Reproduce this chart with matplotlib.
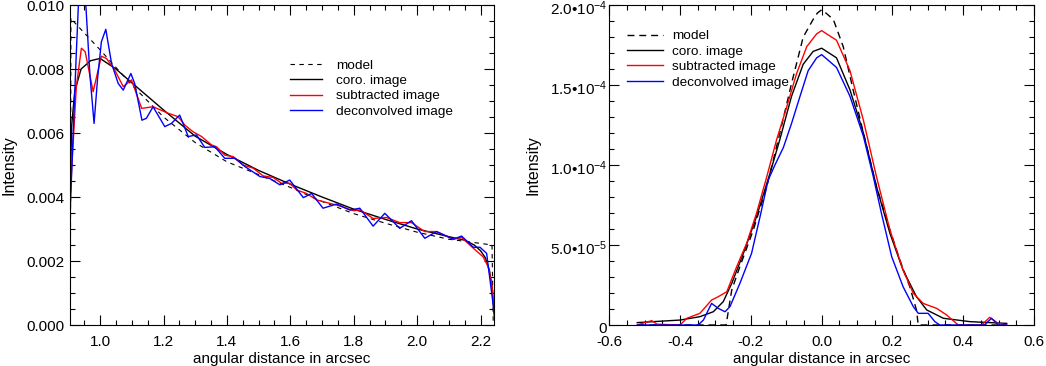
import matplotlib
matplotlib.use("Agg")
import matplotlib.pyplot as plt
import matplotlib.transforms as mtransforms
from matplotlib.ticker import FixedLocator, MultipleLocator, FixedFormatter

plt.rcParams['font.family'] = ['Liberation Sans', 'DejaVu Sans']
plt.rcParams['mathtext.fontset'] = 'custom'
plt.rcParams['mathtext.rm'] = 'Liberation Sans'
plt.rcParams['mathtext.it'] = 'Liberation Sans:italic'
plt.rcParams['mathtext.bf'] = 'Liberation Sans:bold'
plt.rcParams['mathtext.default'] = 'regular'

# ---------------- data: left panel (radial profile) ----------------
left_model_x = [0.906, 0.908, 0.915, 1.0, 1.1, 1.2, 1.3, 1.4, 1.5, 1.6, 1.7, 1.8, 1.9,
                2.0, 2.1, 2.2, 2.236, 2.24]
left_model_y = [0.0, 0.0096, 0.0095, 0.0086, 0.0075, 0.0065, 0.0057, 0.0051, 0.0047,
                0.0043, 0.00386, 0.00348, 0.00318, 0.0029, 0.00268, 0.00255, 0.0025, 0.0]

left_coro_x = [0.904, 0.91, 0.92, 0.94, 0.97, 1.0, 1.05, 1.1, 1.2, 1.3, 1.4, 1.5, 1.6,
               1.7, 1.8, 1.9, 2.0, 2.1, 2.15, 2.18, 2.2, 2.215, 2.228, 2.236, 2.243]
left_coro_y = [0.0035, 0.0062, 0.0073, 0.0080, 0.00826, 0.00833, 0.0080, 0.00757,
               0.00672, 0.0059, 0.00533, 0.00483, 0.0044, 0.0040, 0.00362, 0.0033,
               0.0030, 0.00276, 0.00265, 0.0025, 0.00232, 0.0021, 0.0017, 0.0012, 0.0003]

left_sub_x = [0.904, 0.906, 0.925, 0.941, 0.953, 0.978, 1.004, 1.02, 1.046, 1.073, 1.099,
              1.131, 1.167, 1.214, 1.246, 1.267, 1.293, 1.32, 1.351, 1.367, 1.393, 1.42,
              1.451, 1.483, 1.514, 1.546, 1.572, 1.598, 1.62, 1.651, 1.683, 1.725, 1.756,
              1.8, 1.819, 1.861, 1.903, 1.945, 1.982, 2.024, 2.061, 2.114, 2.14, 2.177,
              2.208, 2.224, 2.235, 2.243]
left_sub_y = [0.0035, 0.0041, 0.00745, 0.00865, 0.00854, 0.00729, 0.0084, 0.00833,
              0.00797, 0.00745, 0.00766, 0.00677, 0.00682, 0.00662, 0.00651, 0.00625,
              0.00604, 0.00589, 0.00563, 0.00557, 0.00531, 0.00526, 0.0050, 0.0049,
              0.00466, 0.00461, 0.00443, 0.00443, 0.00422, 0.00411, 0.00391, 0.0038,
              0.00372, 0.00357, 0.0036, 0.00333, 0.00336, 0.0032, 0.0032, 0.00292,
              0.00292, 0.00268, 0.00274, 0.0024, 0.00213, 0.00182, 0.0013, 0.00037]

left_dec_x = [0.904, 0.915, 0.925, 0.935, 0.945, 0.955, 0.968, 0.981, 0.992, 1.004,
              1.018, 1.036, 1.057, 1.073, 1.097, 1.109, 1.132, 1.146, 1.167, 1.204,
              1.225, 1.251, 1.278, 1.304, 1.33, 1.362, 1.393, 1.425, 1.457, 1.504,
              1.535, 1.567, 1.598, 1.641, 1.667, 1.703, 1.746, 1.788, 1.819, 1.861,
              1.898, 1.945, 1.982, 2.024, 2.061, 2.114, 2.14, 2.177, 2.198, 2.219, 2.243]
left_dec_y = [0.0031, 0.0060, 0.0085, 0.0108, 0.0110, 0.0100, 0.0078, 0.0063, 0.0077,
              0.00885, 0.00924, 0.00818, 0.00755, 0.00734, 0.00786, 0.00755, 0.0064,
              0.00646, 0.00682, 0.0062, 0.0063, 0.00656, 0.00589, 0.00594, 0.00555,
              0.00557, 0.00521, 0.00521, 0.00495, 0.00464, 0.00458, 0.00438, 0.00453,
              0.00398, 0.00411, 0.00365, 0.00378, 0.00359, 0.00365, 0.00309, 0.00349,
              0.00302, 0.00326, 0.00271, 0.00292, 0.00268, 0.00278, 0.00243, 0.00243,
              0.00224, 0.00037]

# ---------------- data: right panel (cut through the source) ----------------
right_model_x = [-0.52, -0.27, -0.254, -0.231, -0.193, -0.155, -0.118, -0.085, -0.052,
                 -0.024, -0.012, 0.0, 0.012, 0.033, 0.061, 0.089, 0.118, 0.155, 0.193,
                 0.221, 0.249, 0.268, 0.273, 0.52]
right_model_y = [0.0, 0.0, 2.19e-5, 3.65e-5, 5.94e-5, 8.65e-5, 1.2e-4, 1.51e-4, 1.8e-4,
                 1.91e-4, 1.95e-4, 1.97e-4, 1.95e-4, 1.91e-4, 1.74e-4, 1.47e-4, 1.2e-4,
                 8.65e-5, 5.94e-5, 4.06e-5, 2.4e-5, 9.4e-6, 0.0, 0.0]

right_coro_x = [-0.521, -0.4, -0.344, -0.306, -0.278, -0.254, -0.221, -0.184, -0.146,
                -0.118, -0.085, -0.052, -0.024, 0.0, 0.042, 0.08, 0.118, 0.155, 0.193,
                0.23, 0.268, 0.297, 0.344, 0.419, 0.523]
right_coro_y = [1.5e-6, 3.1e-6, 5.2e-6, 8.3e-6, 1.46e-5, 2.6e-5, 4.48e-5, 6.77e-5,
                9.48e-5, 1.16e-4, 1.43e-4, 1.63e-4, 1.71e-4, 1.73e-4, 1.67e-4, 1.47e-4,
                1.2e-4, 8.65e-5, 5.73e-5, 3.44e-5, 1.77e-5, 9.4e-6, 4.2e-6, 2.1e-6, 1e-6]

right_sub_x = [-0.521, -0.5, -0.48, -0.465, -0.4, -0.381, -0.344, -0.311, -0.292, -0.268,
               -0.24, -0.212, -0.184, -0.155, -0.127, -0.099, -0.071, -0.042, -0.014,
               0.0, 0.042, 0.08, 0.118, 0.155, 0.193, 0.23, 0.259, 0.287, 0.325, 0.353,
               0.386, 0.452, 0.475, 0.499, 0.523]
right_sub_y = [0.0, 1.5e-6, 2.7e-6, 0.5e-6, 0.0, 4.2e-6, 7.3e-6, 1.56e-5, 1.77e-5,
               2.08e-5, 3.65e-5, 5.1e-5, 6.98e-5, 9.27e-5, 1.16e-4, 1.36e-4, 1.57e-4,
               1.74e-4, 1.82e-4, 1.84e-4, 1.78e-4, 1.59e-4, 1.28e-4, 9.27e-5, 5.94e-5,
               3.44e-5, 1.98e-5, 1.35e-5, 1.04e-5, 6.3e-6, 0.0, 0.0, 4.8e-6, 1e-6, 0.0]

right_dec_x = [-0.521, -0.349, -0.334, -0.311, -0.292, -0.273, -0.259, -0.231, -0.198,
               -0.174, -0.151, -0.132, -0.108, -0.085, -0.061, -0.038, -0.014, 0.0,
               0.042, 0.08, 0.118, 0.146, 0.169, 0.198, 0.23, 0.259, 0.273, 0.301, 0.32,
               0.334, 0.46, 0.48, 0.499, 0.523]
right_dec_y = [0.0, 0.0, 3.1e-6, 1.35e-5, 1.04e-5, 8.3e-6, 1.15e-5, 2.6e-5, 4.48e-5,
               6.77e-5, 9.06e-5, 1.0e-4, 1.11e-4, 1.26e-4, 1.43e-4, 1.59e-4, 1.67e-4,
               1.69e-4, 1.61e-4, 1.43e-4, 1.18e-4, 9.27e-5, 6.98e-5, 4.27e-5, 2.4e-5,
               1.15e-5, 7.3e-6, 7.3e-6, 2.1e-6, 0.0, 0.0, 4.2e-6, 0.0, 0.0]

series_labels = ["model", "coro. image", "subtracted image", "deconvolved image"]

left_xticks = [1.0, 1.2, 1.4, 1.6, 1.8, 2.0, 2.2]
left_xticklabels = ["1.0", "1.2", "1.4", "1.6", "1.8", "2.0", "2.2"]
left_yticks = [0.0, 0.002, 0.004, 0.006, 0.008, 0.010]
left_yticklabels = ["0.000", "0.002", "0.004", "0.006", "0.008", "0.010"]

right_xticks = [-0.6, -0.4, -0.2, 0.0, 0.2, 0.4, 0.6]
right_xticklabels = ["-0.6", "-0.4", "-0.2", "0.0", "0.2", "0.4", "0.6"]
right_yticks = [0.0, 5e-5, 1e-4, 1.5e-4, 2e-4]
right_yticklabels = ["0", "5.0\u202210$^{-5}$", "1.0\u202210$^{-4}$",
                     "1.5\u202210$^{-4}$", "2.0\u202210$^{-4}$"]

xlabel_text = "angular distance in arcsec"
ylabel_text = "Intensity"

# ---------------- figure ----------------
fig = plt.figure(figsize=(10.46, 3.66), dpi=100)
axL = fig.add_axes([0.0669, 0.1120, 0.4056, 0.8743])
axR = fig.add_axes([0.5825, 0.1120, 0.4060, 0.8743])

LW = 1.0
axL.plot(left_model_x, left_model_y, color='black', lw=0.8, dashes=(4, 4), label=series_labels[0])
axL.plot(left_coro_x, left_coro_y, color='black', lw=LW, label=series_labels[1])
axL.plot(left_sub_x, left_sub_y, color='#ff0000', lw=LW, label=series_labels[2])
axL.plot(left_dec_x, left_dec_y, color='#0000ff', lw=LW, label=series_labels[3])

axR.plot(right_model_x, right_model_y, color='black', lw=LW, dashes=(5, 3.5), label=series_labels[0])
axR.plot(right_coro_x, right_coro_y, color='black', lw=LW, label=series_labels[1])
axR.plot(right_sub_x, right_sub_y, color='#ff0000', lw=LW, label=series_labels[2])
axR.plot(right_dec_x, right_dec_y, color='#0000ff', lw=LW, label=series_labels[3])

axL.set_xlim(0.905, 2.243)
axL.set_ylim(0.0, 0.010)
axR.set_xlim(-0.6, 0.6)
axR.set_ylim(0.0, 2.0e-4)

axL.xaxis.set_major_locator(FixedLocator(left_xticks))
axL.xaxis.set_major_formatter(FixedFormatter(left_xticklabels))
axL.xaxis.set_minor_locator(MultipleLocator(0.05))
axL.yaxis.set_major_locator(FixedLocator(left_yticks))
axL.yaxis.set_major_formatter(FixedFormatter(left_yticklabels))
axL.yaxis.set_minor_locator(MultipleLocator(0.0005))

axR.xaxis.set_major_locator(FixedLocator(right_xticks))
axR.xaxis.set_major_formatter(FixedFormatter(right_xticklabels))
axR.xaxis.set_minor_locator(MultipleLocator(0.05))
axR.yaxis.set_major_locator(FixedLocator(right_yticks))
axR.yaxis.set_major_formatter(FixedFormatter(right_yticklabels))
axR.yaxis.set_minor_locator(MultipleLocator(1e-5))

for ax, ypad in ((axL, 3.6), (axR, 1.5)):
    for s in ax.spines.values():
        s.set_linewidth(0.8)
        s.set_color('black')
    ax.tick_params(which='both', direction='in', top=True, right=True, width=0.8,
                   colors='black', labelsize=11)
    ax.tick_params(which='major', length=7.2)
    ax.tick_params(which='minor', length=3.6)
    ax.tick_params(axis='x', which='major', pad=7.0)
    ax.tick_params(axis='y', which='major', pad=ypad)
    ax.set_xlabel(xlabel_text, fontsize=11)
    ax.set_ylabel(ylabel_text, fontsize=11.5)
    ax.xaxis.set_label_coords(0.5, -0.083)

axL.yaxis.set_label_coords(-0.127, 0.5)
axR.yaxis.set_label_coords(-0.161, 0.5)

# nudge the right-panel y tick labels slightly downward (as in the reference)
shift = mtransforms.ScaledTranslation(0, -2.5 / 100, fig.dpi_scale_trans)
for lbl in axR.yaxis.get_majorticklabels():
    lbl.set_transform(lbl.get_transform() + shift)

axL.legend(loc='upper left', bbox_to_anchor=(0.5185, 0.831), frameon=False,
           fontsize=9.7, borderpad=0, borderaxespad=0, handlelength=2.35,
           handletextpad=1.05, labelspacing=0.22)
axR.legend(loc='upper left', bbox_to_anchor=(0.0417, 0.922), frameon=False,
           fontsize=9.7, borderpad=0, borderaxespad=0, handlelength=2.65,
           handletextpad=0.72, labelspacing=0.22)

fig.savefig("out.png", dpi=100)
